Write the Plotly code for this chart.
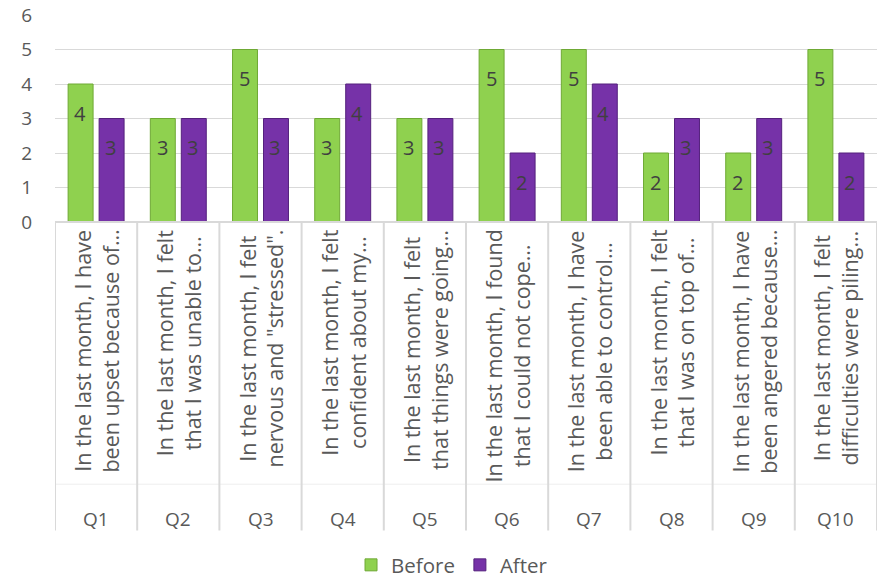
import plotly.graph_objects as go

# Survey responses per question, before and after
questions = ["Q1", "Q2", "Q3", "Q4", "Q5", "Q6", "Q7", "Q8", "Q9", "Q10"]
question_text = [
    "In the last month, I have<br>been upset because of…",
    "In the last month, I felt<br>that I was unable to…",
    "In the last month, I felt<br>nervous and \"stressed\".",
    "In the last month, I felt<br>confident about my…",
    "In the last month, I felt<br>that things were going…",
    "In the last month, I found<br>that I could not cope…",
    "In the last month, I have<br>been able to control…",
    "In the last month, I felt<br>that I was on top of…",
    "In the last month, I have<br>been angered because…",
    "In the last month, I felt<br>difficulties were piling…",
]
before = [4, 3, 5, 3, 3, 5, 5, 2, 2, 5]
after = [3, 3, 3, 4, 3, 2, 4, 3, 3, 2]
y_ticks = [0, 1, 2, 3, 4, 5, 6]

FONT = "Open Sans"
TXT = "#404040"
AX = "#595959"
GREEN, GREEN_EDGE = "#8FD14F", "#6FA935"
PURPLE, PURPLE_EDGE = "#7632A8", "#55217D"

x_pos = list(range(len(questions)))

fig = go.Figure()
fig.add_trace(go.Bar(
    x=x_pos, y=before, name="Before",
    marker=dict(color=GREEN, line=dict(color=GREEN_EDGE, width=1)),
))
fig.add_trace(go.Bar(
    x=x_pos, y=after, name="After",
    marker=dict(color=PURPLE, line=dict(color=PURPLE_EDGE, width=1)),
))

annotations = []
# value labels just below each bar top
for i in x_pos:
    for vals, dx in ((before, -16), (after, 14)):
        annotations.append(dict(
            x=i, y=vals[i], xref="x", yref="y", text=str(vals[i]),
            showarrow=False, xshift=dx, yshift=-29, yanchor="middle",
            font=dict(family=FONT, size=20, color=TXT),
        ))
    # rotated question text and the question code
    annotations.append(dict(
        x=i, y=0, xref="x", yref="paper", text=question_text[i],
        showarrow=False, textangle=-90, yanchor="top", yshift=-6,
        align="center", font=dict(family=FONT, size=21.5, color=AX),
    ))
    annotations.append(dict(
        x=i, y=0, xref="x", yref="paper", text=questions[i],
        showarrow=False, yanchor="middle", yshift=-297,
        font=dict(family=FONT, size=19, color=AX),
    ))

plot_h = 210.0
shapes = []
for k in range(len(questions) + 1):
    shapes.append(dict(
        type="line", xref="x", yref="paper", x0=k - 0.5, x1=k - 0.5,
        y0=0, y1=-(536 - 223) / plot_h, line=dict(color="#D9D9D9", width=2),
    ))
shapes.append(dict(
    type="line", xref="x", yref="paper", x0=-0.5, x1=len(questions) - 0.5,
    y0=-(489 - 223) / plot_h, y1=-(489 - 223) / plot_h,
    line=dict(color="#EEEEEE", width=1), layer="below",
))
shapes.append(dict(
    type="line", xref="x", yref="paper", x0=-0.5, x1=len(questions) - 0.5,
    y0=0, y1=0, line=dict(color="#D9D9D9", width=2),
))

fig.update_layout(
    width=879, height=586,
    margin=dict(l=55, r=2, t=13, b=363),
    paper_bgcolor="white", plot_bgcolor="white",
    barmode="group", bargap=0.246, bargroupgap=0.194,
    font=dict(family=FONT, color=AX),
    showlegend=True,
    legend=dict(
        orientation="h", x=0.483, xanchor="center", y=-(571 - 223) / plot_h,
        yanchor="middle", font=dict(family=FONT, size=20.5, color=AX),
        itemwidth=30, traceorder="normal",
    ),
    annotations=annotations,
    shapes=shapes,
    xaxis=dict(
        range=[-0.5, len(questions) - 0.5], showticklabels=False,
        showgrid=False, zeroline=False, showline=False, ticks="",
    ),
    yaxis=dict(
        range=[0, 6], tickvals=y_ticks, showgrid=True, gridcolor="#D9D9D9",
        gridwidth=1, zeroline=False, showline=False, ticks="",
        ticklabeloverflow="allow",
        ticklabelstandoff=22, tickfont=dict(family=FONT, size=19, color=AX),
    ),
)

fig.write_html("out.html")
